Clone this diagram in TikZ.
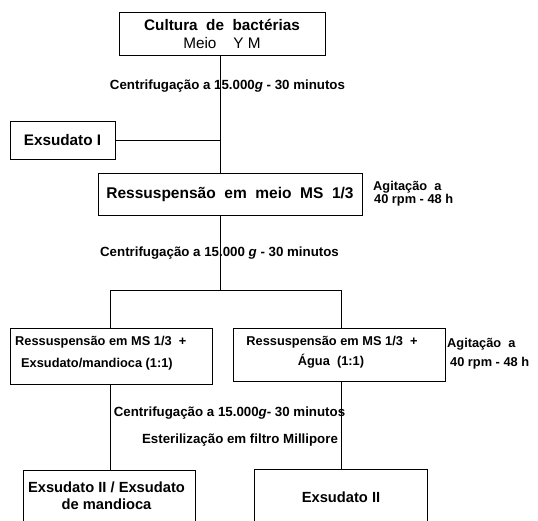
\documentclass[tikz,border=0pt]{standalone}
\usepackage{fontspec}
\setmainfont{Liberation Sans}
\begin{document}
\begin{tikzpicture}[x=1pt,y=-1pt,
  box/.style={draw,line width=1pt,rectangle,inner sep=0pt,align=center,font=\bfseries},
  lab/.style={inner sep=0pt,font=\bfseries\fontsize{13.3}{15}\selectfont},
  agit/.style={inner sep=0pt,anchor=west,align=left,font=\bfseries\fontsize{12.8}{13.5}\selectfont},
  conn/.style={line width=0.9pt}]
\useasboundingbox (0,0) rectangle (538,520);
\clip (0,0) rectangle (538,520);
\fill[white] (0,0) rectangle (538,520);
% boxes
\node[box,minimum width=206pt,minimum height=43pt,font=\bfseries\fontsize{15.3}{19}\selectfont] (b1) at (222,33.5) {Cultura\ \ de\ \ bactérias\\[-1pt]\mdseries Meio\ \ \ \ Y M};
\node[box,minimum width=105pt,minimum height=38pt,font=\bfseries\fontsize{15.3}{17}\selectfont] (ex1) at (62.5,140) {Exsudato I};
\node[box,minimum width=264pt,minimum height=42pt,font=\bfseries\fontsize{15.5}{17}\selectfont] (b2) at (230,194) {Ressuspensão\ \ em\ \ meio\ \ MS\ \ 1/3};
\node[box,minimum width=202pt,minimum height=56pt] (b3) at (111,356) {};
\node[inner sep=0pt,anchor=west,align=left,font=\bfseries\fontsize{12.8}{22}\selectfont] (t3) at (15,353) {Ressuspensão em MS 1/3\ \ +\\\hspace*{6pt}Exsudato/mandioca (1:1)};
\node[box,minimum width=212pt,minimum height=53pt,font=\bfseries\fontsize{12.8}{20}\selectfont] (b4) at (339,354.5) {};
\node[inner sep=0pt,align=center,font=\bfseries\fontsize{12.8}{20}\selectfont] (t4) at (332,352) {Ressuspensão em MS 1/3\ \ +\\Água\ \ (1:1)\hspace*{2pt}};
\node[box,minimum width=172pt,minimum height=60pt] (b5) at (109,500) {};
\node[box,minimum width=173pt,minimum height=61pt] (b6) at (340.5,499.5) {};
\node[inner sep=0pt,align=center,font=\bfseries\fontsize{14.7}{17}\selectfont] (t5) at (106.5,496) {Exsudato II / Exsudato\\de mandioca};
\node[inner sep=0pt,font=\bfseries\fontsize{14.7}{17}\selectfont] (t6) at (341,497) {Exsudato II};
% labels
\node[lab] (l1) at (227.5,86) {Centrifugação a 15.000\textit{g} - 30 minutos};
\node[lab] (l2) at (219.5,253) {Centrifugação a 15.000 \textit{g} - 30 minutos};
\node[lab] (l3) at (229.5,413) {Centrifugação a 15.000\textit{g}- 30 minutos};
\node[lab] (l4) at (240,440) {Esterilização em filtro Millipore};
\node[agit] (a1) at (373,193.5) {Agitação\ \ a\\\hspace*{1pt}40 rpm - 48 h};
\node[agit,font=\bfseries\fontsize{12.8}{19}\selectfont] (a2) at (447,354) {Agitação\ \ a\\\hspace*{3pt}40 rpm - 48 h};
% junctions
\coordinate (j1) at (220,140);
\coordinate (j2) at (220,290);
\coordinate (jl) at (110,290);
\coordinate (jr) at (341,290);
% connectors
\draw[conn] (j1 |- b1.south) -- (j1 |- b2.north);
\draw[conn] (ex1.east) -- (j1);
\draw[conn] (j2 |- b2.south) -- (j2);
\draw[conn] (jl |- b3.north) -- (jl) -- (jr) -- (jr |- b4.north);
\draw[conn] (jl |- b3.south) -- (jl |- b5.north);
\draw[conn] (jr |- b4.south) -- (jr |- b6.north);
\end{tikzpicture}
\end{document}
